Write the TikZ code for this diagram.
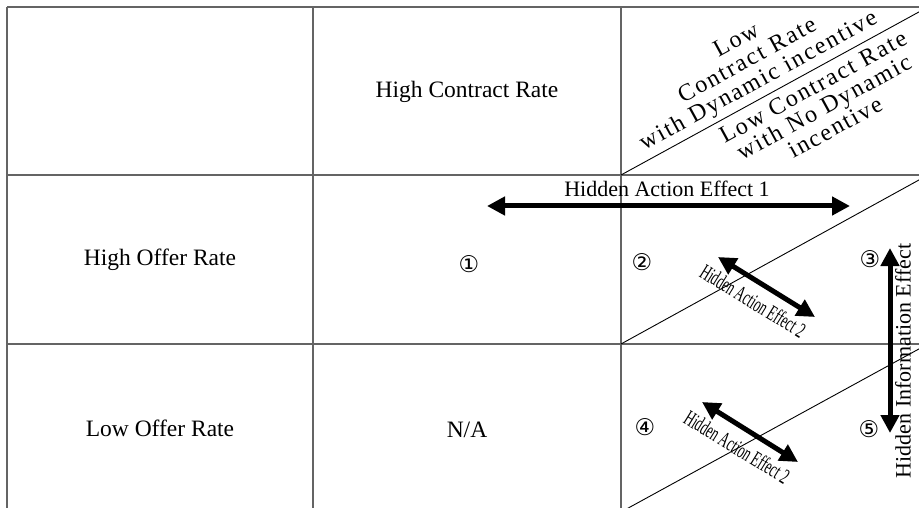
\documentclass[tikz,border=0pt]{standalone}
\usepackage{fontspec}
\setmainfont{Liberation Serif}
\newfontfamily\circfont{DejaVu Sans}
\newfontfamily\headfont[LetterSpace=8]{Liberation Serif}
\usetikzlibrary{arrows.meta}
\definecolor{gridc}{RGB}{100,100,100}
\begin{document}
\begin{tikzpicture}[x=1pt,y=-1pt,
  gridline/.style={draw=gridc,line width=1.3pt},
  diagline/.style={draw=black,line width=0.9pt},
  lbl/.style={font=\fontsize{22pt}{26pt}\selectfont,inner sep=0pt},
  rowlbl/.style={font=\fontsize{23.5pt}{27pt}\selectfont,inner sep=0pt},
  hdr/.style={font=\headfont\fontsize{24pt}{23pt}\selectfont,align=center,inner sep=0pt,rotate=28.7},
  circ/.style={font=\circfont\fontsize{23pt}{26pt}\selectfont,inner sep=0pt},
  bigarrow/.style={line width=5pt,{Triangle[length=18pt,width=18pt]}-{Triangle[length=18pt,width=18pt]}},
  condensed/.style={font=\fontsize{22pt}{26pt}\selectfont,inner sep=0pt,rotate=-31.7}
]
\useasboundingbox (0,0) rectangle (919,508);
\clip (0,0) rectangle (919,508);
\fill[white] (0,0) rectangle (919,508);
% grid
\foreach \yy in {7,175,344,512} \draw[gridline] (7,\yy) -- (928,\yy);
\foreach \xx in {7,313,621,928} \draw[gridline] (\xx,7) -- (\xx,512);
% cell diagonals
\coordinate (d0a) at (621,175); \coordinate (d0b) at (928,7);
\coordinate (d1a) at (621,344); \coordinate (d1b) at (928,175);
\coordinate (d2a) at (621,512); \coordinate (d2b) at (928,344);
\draw[diagline] (d0a) -- (d0b);
\draw[diagline] (d1a) -- (d1b);
\draw[diagline] (d2a) -- (d2b);
% header texts
\node[hdr] (lowdyn) at (748,62) {Low\\Contract Rate\\with Dynamic incentive};
\node[hdr] (lownodyn) at (824,107) {Low Contract Rate\\with No Dynamic\\incentive};
\node[rowlbl] (hcr) at (467,92) {High Contract Rate};
% row labels
\node[rowlbl] (hor) at (160,260) {High Offer Rate};
\node[rowlbl] (lor) at (160,428) {Low Offer Rate};
\node[rowlbl] (na) at (467,430) {N/A};
% circled numbers
\node[circ] (n1) at (469,264) {①};
\node[circ] (n2) at (642,262) {②};
\node[circ] (n3) at (870,259) {③};
\node[circ] (n4) at (645,427) {④};
\node[circ] (n5) at (869,429) {⑤};
% Hidden action effect 1
\coordinate (h1l) at (487,206); \coordinate (h1r) at (850,206);
\draw[bigarrow] (h1l) -- (h1r);
\node[lbl] (hae1) at (667,189) {Hidden Action Effect 1};
% Hidden action effect 2 (row 1)
\coordinate (a2s) at (718,257); \coordinate (a2e) at (815,317);
\draw[bigarrow] (a2s) -- (a2e);
\node[condensed] (hae2a) at (753,301) {\scalebox{0.58}[1]{Hidden Action Effect 2}};
% Hidden action effect 2 (row 2)
\coordinate (b2s) at (702,402); \coordinate (b2e) at (798,462);
\draw[bigarrow] (b2s) -- (b2e);
\node[condensed] (hae2b) at (737,447) {\scalebox{0.58}[1]{Hidden Action Effect 2}};
% Hidden information effect
\coordinate (vi1) at (890,248); \coordinate (vi2) at (890,433);
\draw[bigarrow] (vi1) -- (vi2);
\node[lbl,rotate=90] (hie) at (903,361) {Hidden Information Effect};
\end{tikzpicture}
\end{document}
